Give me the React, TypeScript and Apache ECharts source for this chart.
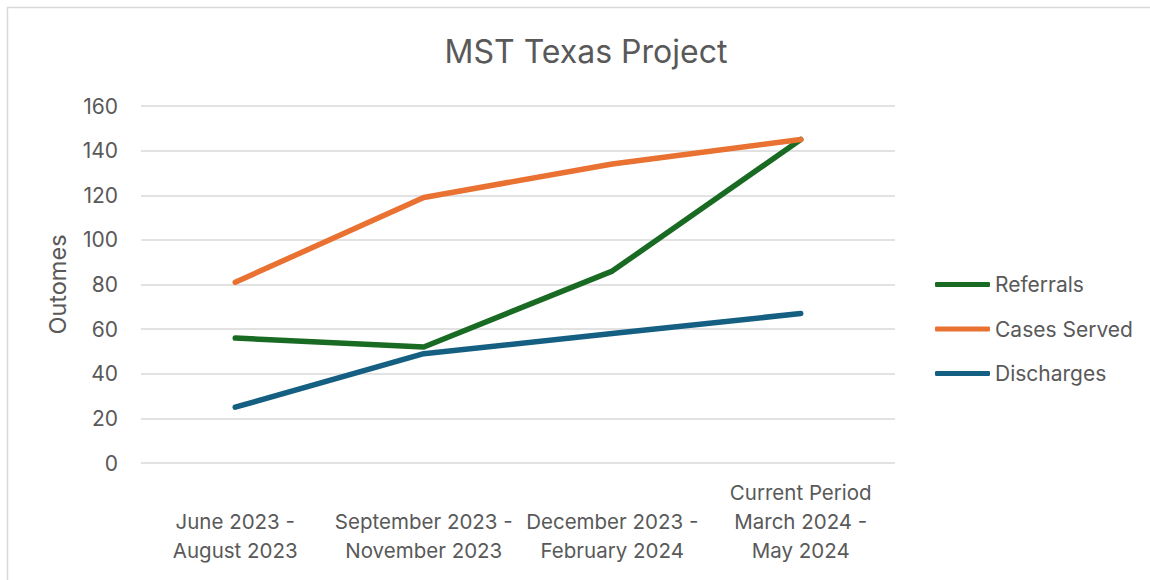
import React, { useEffect, useRef } from "react";
import * as echarts from "echarts";

const categories = [
  "June 2023 -\nAugust 2023",
  "September 2023 -\nNovember 2023",
  "December 2023 -\nFebruary 2024",
  "Current Period\nMarch 2024 -\nMay 2024",
];
const referrals = [56, 52, 86, 145];
const casesServed = [81, 119, 134, 145];
const discharges = [25, 49, 58, 67];

const FONT = "Inter, 'Open Sans', sans-serif";
const TXT = "#595959";

export default function App() {
  const ref = useRef<HTMLDivElement>(null);
  useEffect(() => {
    document.body.style.margin = "0";
    const chart = echarts.init(ref.current!, null, { renderer: "svg" });
    const mk = (name: string, data: number[], color: string) => ({
      name,
      type: "line",
      data,
      symbol: "none",
      smooth: false,
      lineStyle: { color, width: 5.5, cap: "round", join: "round" },
      itemStyle: { color },
    });
    chart.setOption({
      animation: false,
      backgroundColor: "#fff",
      textStyle: { fontFamily: FONT },
      graphic: [
        {
          type: "rect",
          shape: { x: 7.5, y: 7.5, width: 1160, height: 600 },
          style: { fill: "none", stroke: "#D9D9D9", lineWidth: 1.5 },
          silent: true,
        },
      ],
      title: {
        text: "MST Texas Project",
        left: 581,
        textAlign: "center",
        top: 30,
        textStyle: { fontFamily: FONT, fontSize: 32, fontWeight: "normal", color: TXT },
      },
      grid: { left: 141, right: 1150 - 895, top: 106, bottom: 580 - 463, containLabel: false },
      legend: {
        orient: "vertical",
        left: 935,
        top: 274,
        padding: 0,
        itemWidth: 55,
        itemHeight: 5,
        itemGap: 23.5,
        icon: "roundRect",
        textStyle: { fontFamily: FONT, fontSize: 21, color: TXT },
        data: ["Referrals", "Cases Served", "Discharges"],
      },
      xAxis: {
        type: "category",
        data: categories,
        boundaryGap: true,
        axisLine: { show: false },
        axisTick: { show: false },
        axisLabel: {
          interval: 0,
          color: TXT,
          fontFamily: FONT,
          fontSize: 20.5,
          lineHeight: 29,
          verticalAlign: "bottom",
          margin: 102,
        },
      },
      yAxis: {
        type: "value",
        min: 0,
        max: 160,
        interval: 20,
        name: "Outomes",
        nameLocation: "middle",
        nameGap: 72,
        nameRotate: 90,
        nameTextStyle: { fontFamily: FONT, fontSize: 23.5, color: TXT },
        axisLine: { show: false },
        axisTick: { show: false },
        axisLabel: { color: TXT, fontFamily: FONT, fontSize: 21, margin: 23 },
        splitLine: { lineStyle: { color: "#D9D9D9", width: 1.5 } },
      },
      series: [
        mk("Referrals", referrals, "#196B24"),
        mk("Cases Served", casesServed, "#E97132"),
        mk("Discharges", discharges, "#156082"),
      ],
    });
    return () => chart.dispose();
  }, []);
  return <div ref={ref} style={{ width: 1150, height: 580 }} />;
}
